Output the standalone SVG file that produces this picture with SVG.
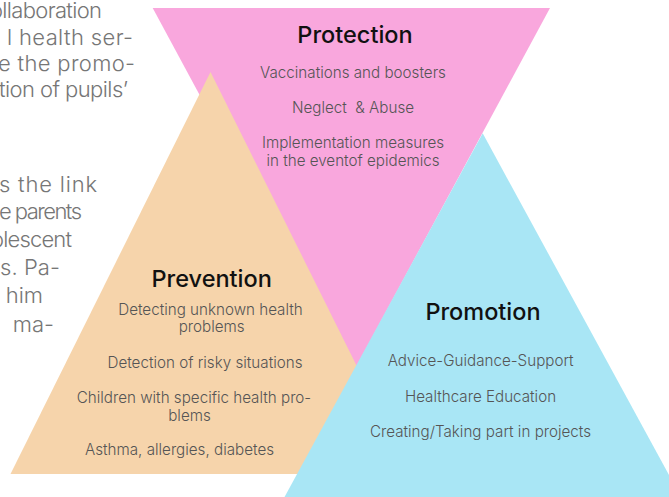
<svg xmlns="http://www.w3.org/2000/svg" width="669" height="497" viewBox="0 0 669 497">
<style>
.bg{font-family:Inter,"Noto Sans",sans-serif;font-weight:300;font-size:22px;fill:#767676}
.title{font-family:Inter,"Noto Sans",sans-serif;font-weight:500;font-size:23.5px;fill:#111;text-anchor:middle}
.item{font-family:Inter,"Noto Sans",sans-serif;font-weight:300;font-size:15.2px;fill:#555;text-anchor:middle}
</style>
<rect width="669" height="497" fill="#fff"/>
<g id="page-text" class="bg">
<text x="-10" y="18" textLength="112" lengthAdjust="spacing">ollaboration</text>
<text x="7" y="45" textLength="126" lengthAdjust="spacing">l health ser-</text>
<text x="-2" y="71" textLength="137" lengthAdjust="spacing">e the promo-</text>
<text x="-1" y="97" textLength="129" lengthAdjust="spacing">tion of pupils’</text>
<text x="-1" y="192" textLength="98" lengthAdjust="spacing">s the link</text>
<text x="-1" y="219" textLength="83" lengthAdjust="spacing">e parents</text>
<text x="-9" y="247" textLength="81" lengthAdjust="spacing">olescent</text>
<text x="0" y="275" textLength="60" lengthAdjust="spacing">s. Pa-</text>
<text x="43" y="303" text-anchor="end">him</text>
<text x="54" y="332" text-anchor="end">ma-</text>
</g>
<g id="protection">
<polygon points="152.7,8 550,8 351.3,376" fill="#F9A7DD"/>
<text class="title" x="355" y="43">Protection</text>
<text class="item" x="353" y="78">Vaccinations and boosters</text>
<text class="item" x="353" y="113" xml:space="preserve">Neglect  &amp; Abuse</text>
<text class="item" x="353" y="148">Implementation measures</text>
<text class="item" x="353" y="166">in the eventof epidemics</text>
</g>
<g id="prevention">
<polygon points="210.5,72 10.5,474 410.5,474" fill="#F6D4AB"/>
<text class="title" x="211.7" y="287">Prevention</text>
<text class="item" x="210.5" y="315">Detecting unknown health</text>
<text class="item" x="211.7" y="332">problems</text>
<text class="item" x="205" y="368">Detection of risky situations</text>
<text class="item" x="194" y="403">Children with specific health pro-</text>
<text class="item" x="189.5" y="421">blems</text>
<text class="item" x="179.5" y="455">Asthma, allergies, diabetes</text>
</g>
<g id="promotion">
<polygon points="482.7,133.3 272,520 693.5,520" fill="#A9E6F5"/>
<text class="title" x="483" y="320">Promotion</text>
<text class="item" x="480.7" y="366">Advice-Guidance-Support</text>
<text class="item" x="480.5" y="402">Healthcare Education</text>
<text class="item" x="480.5" y="437">Creating/Taking part in projects</text>
</g>
</svg>
